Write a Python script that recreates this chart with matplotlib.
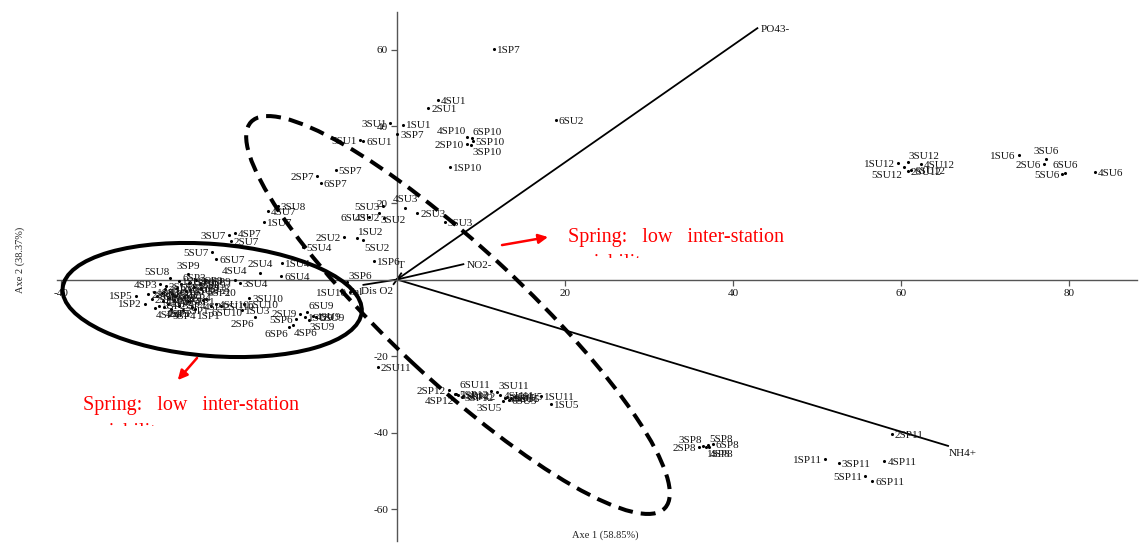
import matplotlib
matplotlib.use("Agg")
import matplotlib.pyplot as plt
from matplotlib import transforms as mtrans
from matplotlib.patches import Ellipse

plt.rcParams['font.family'] = ['Liberation Serif', 'DejaVu Serif']
plt.rcParams['axes.unicode_minus'] = False

# ---------------- PCA scores: spring campaigns (station + SP + campaign) ----------------
sp_labels = ['1SP1', '2SP1', '3SP1', '4SP1', '5SP1', '6SP1',
             '1SP2', '2SP2', '3SP2', '4SP2', '5SP2', '6SP2',
             '1SP3', '2SP3', '3SP3', '4SP3', '5SP3', '6SP3',
             '1SP4', '2SP4', '3SP4', '4SP4', '5SP4', '6SP4',
             '1SP5', '2SP5', '3SP5', '4SP5', '5SP5', '6SP5',
             '1SP6', '2SP6', '3SP6', '4SP6', '5SP6', '6SP6',
             '1SP7', '2SP7', '3SP7', '4SP7', '5SP7', '6SP7',
             '1SP8', '2SP8', '3SP8', '4SP8', '5SP8', '6SP8',
             '1SP9', '2SP9', '3SP9', '4SP9', '5SP9', '6SP9',
             '1SP10', '2SP10', '3SP10', '4SP10', '5SP10', '6SP10',
             '1SP11', '2SP11', '3SP11', '4SP11', '5SP11', '6SP11',
             '1SP12', '2SP12', '3SP12', '4SP12', '5SP12', '6SP12']
sp_axe1 = [-24.0, -24.4, -25.5, -23.1, -24.9, -22.7,
           -30.0, -29.2, -28.6, -27.9, -28.3, -27.1,
           -28.9, -27.6, -26.8, -28.2, -26.2, -25.7,
           -27.3, -26.5, -25.9, -28.8, -26.9, -25.3,
           -31.1, -29.6, -28.0, -27.7, -26.4, -25.1,
           -2.7, -16.9, -5.9, -12.4, -12.0, -12.8,
           11.5, -9.5, 0.0, -19.3, -7.3, -9.1,
           36.8, 36.0, 36.4, 37.1, 37.0, 37.6,
           -24.8, -23.9, -24.9, -24.2, -23.5, -22.9,
           6.3, 8.3, 8.8, 8.3, 9.0, 8.9,
           50.9, 58.9, 52.6, 58.0, 55.7, 56.6,
           7.3, 6.2, 7.7, 6.9, 7.0, 7.9]
sp_axe2 = [-7.6, -7.2, -7.9, -5.4, -5.7, -5.2,
           -6.3, -5.1, -4.4, -5.6, -6.8, -4.9,
           -3.2, -2.6, -3.8, -1.3, -2.1, -1.2,
           -6.3, -5.4, -6.8, -7.4, -7.7, -4.6,
           -4.2, -3.9, -3.5, -7.2, -4.2, -3.0,
           4.9, -9.8, -0.6, -12.0, -10.3, -12.5,
           60.3, 27.0, 38.0, 12.1, 28.5, 25.2,
           -43.7, -43.8, -43.5, -43.8, -43.3, -43.1,
           -0.8, -0.2, 1.5, -1.9, -1.1, -0.5,
           29.5, 35.5, 35.2, 37.2, 36.2, 36.9,
           -46.9, -40.5, -47.9, -47.5, -51.4, -52.7,
           -30.3, -28.8, -30.7, -29.9, -30.0, -30.4]

# ---------------- PCA scores: summer campaigns (station + SU + campaign) ----------------
su_labels = ['1SU1', '2SU1', '3SU1', '4SU1', '5SU1', '6SU1',
             '1SU2', '2SU2', '3SU2', '4SU2', '5SU2', '6SU2',
             '1SU3', '2SU3', '3SU3', '4SU3', '5SU3', '6SU3',
             '1SU4', '2SU4', '3SU4', '4SU4', '5SU4', '6SU4',
             '1SU5', '2SU5', '3SU5', '4SU5', '5SU5', '6SU5',
             '1SU6', '2SU6', '3SU6', '4SU6', '5SU6', '6SU6',
             '1SU7', '2SU7', '3SU7', '4SU7', '5SU7', '6SU7',
             '1SU8', '2SU8', '3SU8', '4SU8', '5SU8', '6SU8',
             '1SU9', '2SU9', '3SU9', '4SU9', '5SU9', '6SU9',
             '1SU10', '2SU10', '3SU10', '4SU10', '5SU10', '6SU10',
             '1SU11', '2SU11', '3SU11', '4SU11', '5SU11', '6SU11',
             '1SU12', '2SU12', '3SU12', '4SU12', '5SU12', '6SU12']
su_axe1 = [0.7, 3.7, -0.8, 4.9, -4.4, -4.0,
           -4.8, -6.3, -2.1, -1.6, -4.0, 18.9,
           -18.5, 2.4, 5.7, 1.0, -1.7, -3.3,
           -13.7, -16.3, -18.7, -19.3, -11.2, -13.8,
           18.3, 13.1, 12.6, 13.6, 14.0, 13.3,
           74.0, 77.0, 77.3, 83.1, 79.2, 79.5,
           -15.8, -19.8, -20.0, -15.4, -22.0, -21.5,
           -26.0, -27.5, -14.2, -24.6, -27.0, -23.3,
           -11.0, -11.6, -10.5, -10.0, -9.6, -10.7,
           -5.6, -21.0, -17.6, -21.6, -18.2, -22.2,
           17.1, -2.3, 11.9, 12.3, 12.9, 11.2,
           59.7, 60.8, 60.8, 62.4, 60.3, 61.2]
su_axe2 = [40.5, 44.9, 41.0, 47.0, 36.5, 36.3,
           10.8, 11.0, 17.3, 16.2, 10.2, 41.8,
           -8.0, 17.3, 15.1, 18.8, 19.3, 16.4,
           4.4, 1.8, -1.0, 0.0, 8.4, 0.9,
           -32.6, -30.8, -31.8, -31.0, -30.6, -31.4,
           32.6, 30.1, 31.5, 28.1, 27.6, 27.9,
           15.0, 10.0, 11.6, 17.8, 7.1, 5.4,
           -0.4, -1.6, 19.2, -2.8, 0.3, -2.3,
           -9.8, -8.9, -10.6, -9.6, -9.9, -8.5,
           -3.3, -7.0, -4.8, -6.4, -6.5, -6.9,
           -30.5, -22.9, -29.5, -30.2, -30.9, -29.2,
           30.5, 28.4, 30.7, 30.2, 29.3, 28.6]

# ---------------- variable loadings (correlation circle, rescaled) ----------------
var_names = ['PO43-', 'NO2-', 'NH4+', 'Sal', 'Dis O2', 'T']
var_axe1 = [42.9, 7.9, 65.6, -4.0, -0.4, 0.5]
var_axe2 = [65.7, 4.0, -43.5, -1.4, -1.2, 1.6]

x_ticks = [-40, -20, 20, 40, 60, 80]
y_ticks = [-60, -40, -20, 20, 40, 60]
axe1_title = 'Axe 1 (58.85%)'
axe2_title = 'Axe 2 (38.37%)'
note_line1 = 'Spring:   low   inter-station'
note_line2 = 'variability'

# label placement around each score point (style only)
side_sp = ['rd', 'ld', 'r', 'rd', 'r', 'ru',
           'l', 'r', 'r', 'r', 'r', 'r',
           'r', 'r', 'r', 'l', 'r', 'ru',
           'r', 'r', 'r', 'rd', 'rd', 'r',
           'l', 'r', 'r', 'rd', 'r', 'r',
           'r', 'ld', 'ru', 'rd', 'l', 'ld',
           'r', 'l', 'r', 'r', 'r', 'r',
           'rd', 'l', 'lu', 'rd', 'ru', 'r',
           'r', 'r', 'cu', 'r', 'r', 'r',
           'r', 'l', 'rd', 'lu', 'r', 'ru',
           'l', 'r', 'r', 'r', 'l', 'r',
           'r', 'l', 'r', 'ld', 'r', 'r']
side_su = ['r', 'r', 'l', 'r', 'l', 'r',
           'ru', 'l', 'rd', 'l', 'rd', 'r',
           'r', 'r', 'r', 'cu', 'l', 'l',
           'r', 'cu', 'r', 'cu', 'r', 'r',
           'r', 'r', 'ld', 'r', 'r', 'r',
           'l', 'l', 'cu', 'r', 'l', 'cu',
           'r', 'r', 'l', 'r', 'l', 'r',
           'r', 'r', 'r', 'r', 'lu', 'r',
           'r', 'l', 'rd', 'r', 'r', 'ru',
           'l', 'r', 'r', 'r', 'r', 'rd',
           'r', 'r', 'ru', 'r', 'r', 'lu',
           'l', 'r', 'ru', 'r', 'ld', 'r']
side_var = ['r', 'r', 'rd', 'ld', 'ld', 'cu']

PLACE = {
    'r':  ((2.2, -1.0), 'left'),
    'l':  ((-2.2, -1.0), 'right'),
    'ru': ((0.8, 4.0), 'left'),
    'rd': ((0.8, -5.5), 'left'),
    'lu': ((-0.8, 4.0), 'right'),
    'ld': ((-0.8, -5.5), 'right'),
    'cu': ((0.0, 5.5), 'center'),
}

W, H, DPI = 1139, 546, 100
fig = plt.figure(figsize=(W / DPI, H / DPI), dpi=DPI)
ax = fig.add_axes([0, 0, 1, 1])
ax.set_xlim(-47.26, 88.33)
ax.set_ylim(-69.67, 73.07)
ax.patch.set_visible(False)

# axes crossing at the origin
for s in ('top', 'right'):
    ax.spines[s].set_visible(False)
ax.spines['left'].set_position(('data', 0))
ax.spines['bottom'].set_position(('data', 0))
ax.spines['left'].set_bounds(-68.4, 69.9)
ax.spines['bottom'].set_bounds(-40.5, 88.1)
for s in ('left', 'bottom'):
    ax.spines[s].set_color('#555555')
    ax.spines[s].set_linewidth(1.0)
ax.set_xticks(x_ticks)
ax.set_yticks(y_ticks)
ax.tick_params(direction='out', length=4, width=0.9, color='#555555',
               labelsize=8, pad=2.5, labelcolor='#111111')

# variable vectors
for name, vx, vy, sd in zip(var_names, var_axe1, var_axe2, side_var):
    ax.plot([0, vx], [0, vy], color='black', lw=1.3, zorder=2)
    off, ha = PLACE[sd]
    ax.annotate(name, (vx, vy), xytext=off, textcoords='offset points',
                ha=ha, va='center', fontsize=8, color='#111111', zorder=4)

# score points and their labels
all_lab = sp_labels + su_labels
all_x = sp_axe1 + su_axe1
all_y = sp_axe2 + su_axe2
all_side = side_sp + side_su
ax.scatter(all_x, all_y, s=5, color='black', linewidths=0, zorder=3)
for lab, px, py, sd in zip(all_lab, all_x, all_y, all_side):
    off, ha = PLACE[sd]
    ax.annotate(lab, (px, py), xytext=off, textcoords='offset points',
                ha=ha, va='center', fontsize=8, color='#151515', zorder=4)


def at_point(x, y):
    X, Y = ax.transData.transform((x, y))
    return mtrans.Affine2D().translate(X, Y)


# spring group (solid) and dispersed group (dashed)
ax.add_patch(Ellipse((0, 0), 300, 112, angle=-4.5, transform=at_point(-22.0, -5.36),
                     fill=False, ec='black', lw=2.9, zorder=6))
ax.add_patch(Ellipse((0, 0), 566, 132, angle=-43, transform=at_point(7.26, -9.28),
                     fill=False, ec='black', lw=2.9, ls=(0, (3.7, 2.0)), zorder=6))

# red annotations
arrow_kw = dict(arrowstyle='-|>', color='#ff0000', lw=1.8, mutation_scale=14,
                shrinkA=0, shrinkB=0)
ax.annotate('', xy=(17.98, 11.1), xytext=(12.5, 9.0), arrowprops=arrow_kw, zorder=7)
ax.annotate('', xy=(-26.1, -26.3), xytext=(-23.8, -20.5), arrowprops=arrow_kw, zorder=7)

for (tx, ty, ty2, clip_y) in [(20.36, 9.88, 2.95, 258), (-37.38, -34.1, -41.05, 426)]:
    ax.text(tx, ty, note_line1, color='#ff0000', fontsize=14.5, ha='left',
            va='baseline', zorder=7)
    t2 = ax.text(tx, ty2, note_line2, color='#ff0000', fontsize=14.5, ha='left',
                 va='baseline', zorder=7)
    t2.set_clip_box(mtrans.Bbox.from_extents(0, H - clip_y, W, H))
    t2.set_clip_on(True)

# axis titles
fig.text(605 / W, 1 - 535 / H, axe1_title, fontsize=7.5, ha='center', va='center',
         color='#222222')
fig.text(20 / W, 1 - 260 / H, axe2_title, fontsize=7.5, ha='center', va='center',
         rotation=90, color='#222222')

fig.savefig('out.png', dpi=DPI)
